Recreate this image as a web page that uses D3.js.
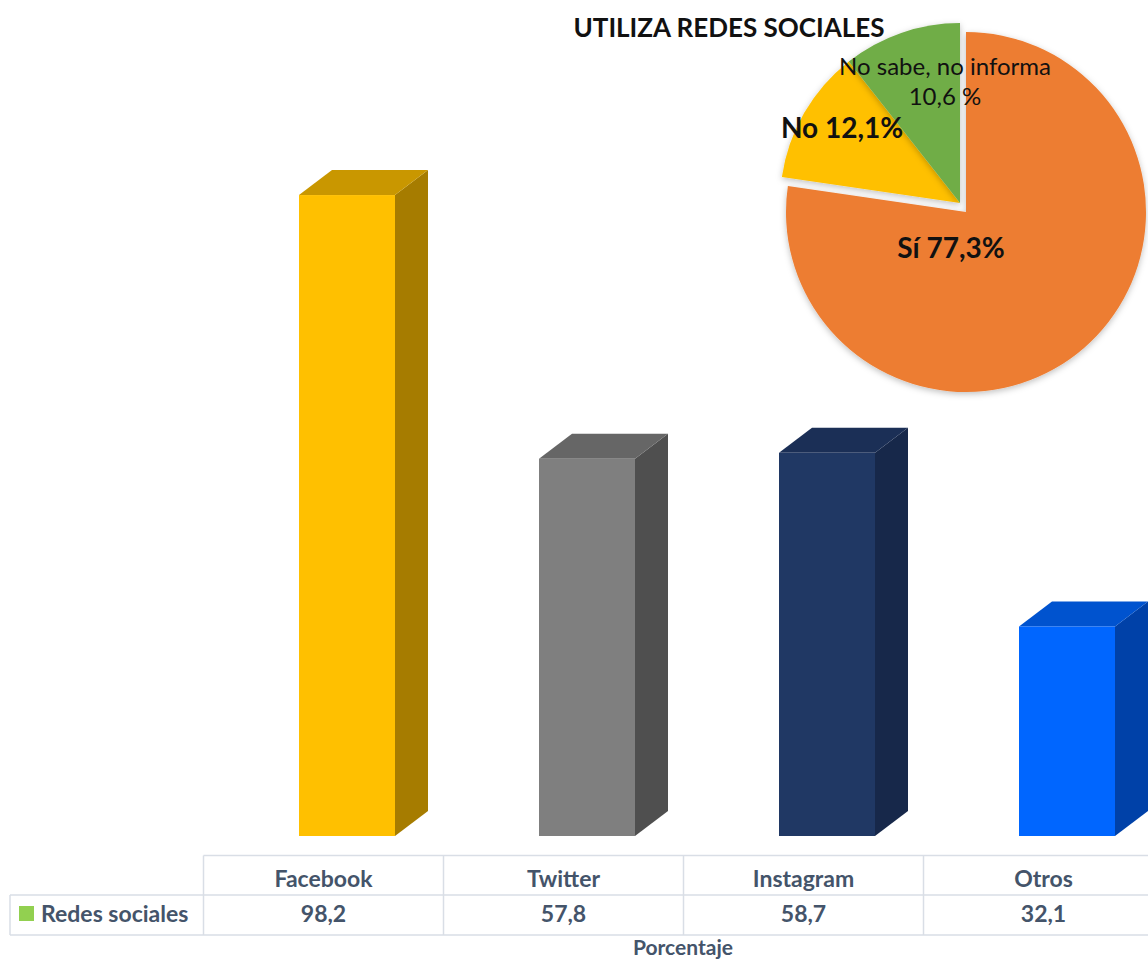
<!DOCTYPE html>
<html lang="es">
<head>
    <meta charset="UTF-8">
    <title>Redes sociales</title>
    <script src="https://cdn.jsdelivr.net/npm/d3@7"></script>
    <style>
        body {
            margin: 0;
            padding: 0;
            background: #fff;
            font-family: Lato, "Open Sans", sans-serif;
        }
        svg { display: block; }
        .cell-line { stroke: #d9dee6; stroke-width: 1.5; fill: none; }
        .tbl-text { fill: #44546a; font-weight: bold; font-size: 23px; text-anchor: middle; }
    </style>
</head>
<body>
    <div id="chart"></div>
    <script>
        // datos
        const categories = ["Facebook", "Twitter", "Instagram", "Otros"];
        const values = [98.2, 57.8, 58.7, 32.1];
        const valueLabels = ["98,2", "57,8", "58,7", "32,1"];
        const seriesName = "Redes sociales";
        const axisTitle = "Porcentaje";

        const pieTitle = "UTILIZA REDES SOCIALES";
        const pieNames = ["Sí", "No", "No sabe, no informa"];
        const pieValues = [77.3, 12.1, 10.6];
        const pieLabels = ["Sí 77,3%", "No 12,1%", "No sabe, no informa|10,6 %"];

        const width = 1148, height = 962;

        // colores de las barras: frente, lado, tapa
        const barColors = [
            { front: "#ffc000", side: "#a67c00", top: "#c99700" },
            { front: "#7f7f7f", side: "#4f4f4f", top: "#666666" },
            { front: "#203864", side: "#17284a", top: "#1b2f56" },
            { front: "#0066ff", side: "#0041a8", top: "#0053cf" }
        ];
        const pieColors = ["#ed7d31", "#ffc000", "#70ad47"];

        const svg = d3.select("#chart")
            .append("svg")
            .attr("width", width)
            .attr("height", height);

        const x = d3.scaleBand()
            .domain(categories)
            .range([203.5, 1163.5]);

        const y = d3.scaleLinear()
            .domain([0, 100])
            .range([836, 836 - 652.7]);

        const dx = 33, dy = 25;
        const frontOff = 95.5, frontW = 96;

        const bars = svg.selectAll(".bar")
            .data(categories)
            .enter().append("g")
            .attr("class", "bar");

        // cara lateral
        bars.append("path")
            .attr("fill", (d, i) => barColors[i].side)
            .attr("d", (d, i) => {
                const x1 = x(d) + frontOff + frontW;
                const yt = y(values[i]), yb = y(0);
                return `M${x1},${yt}L${x1 + dx},${yt - dy}L${x1 + dx},${yb - dy}L${x1},${yb}Z`;
            });

        // tapa
        bars.append("path")
            .attr("fill", (d, i) => barColors[i].top)
            .attr("d", (d, i) => {
                const x0 = x(d) + frontOff, x1 = x0 + frontW;
                const yt = y(values[i]);
                return `M${x0},${yt}L${x0 + dx},${yt - dy}L${x1 + dx},${yt - dy}L${x1},${yt}Z`;
            });

        // frente
        bars.append("rect")
            .attr("fill", (d, i) => barColors[i].front)
            .attr("x", d => x(d) + frontOff)
            .attr("width", frontW)
            .attr("y", (d, i) => y(values[i]))
            .attr("height", (d, i) => y(0) - y(values[i]));

        // tabla de datos
        const tTop = 855.5, tMid = 895, tBot = 935;
        const tbl = svg.append("g");
        tbl.append("line").attr("class", "cell-line")
            .attr("x1", x.range()[0]).attr("x2", width).attr("y1", tTop).attr("y2", tTop);
        tbl.append("line").attr("class", "cell-line")
            .attr("x1", 10).attr("x2", width).attr("y1", tMid).attr("y2", tMid);
        tbl.append("line").attr("class", "cell-line")
            .attr("x1", 10).attr("x2", width).attr("y1", tBot).attr("y2", tBot);
        tbl.append("line").attr("class", "cell-line")
            .attr("x1", 10).attr("x2", 10).attr("y1", tMid).attr("y2", tBot);
        tbl.selectAll(".vline")
            .data(categories)
            .enter().append("line")
            .attr("class", "cell-line vline")
            .attr("x1", d => x(d)).attr("x2", d => x(d))
            .attr("y1", tTop)
            .attr("y2", tBot);

        tbl.selectAll(".cat")
            .data(categories)
            .enter().append("text")
            .attr("class", "tbl-text")
            .attr("x", d => x(d) + x.bandwidth() / 2)
            .attr("y", 887)
            .text(d => d);

        tbl.selectAll(".val")
            .data(valueLabels)
            .enter().append("text")
            .attr("class", "tbl-text")
            .attr("x", (d, i) => x(categories[i]) + x.bandwidth() / 2)
            .attr("y", 922)
            .text(d => d);

        tbl.append("rect")
            .attr("x", 19).attr("y", 906)
            .attr("width", 15).attr("height", 15)
            .attr("fill", "#92d050");
        tbl.append("text")
            .attr("class", "tbl-text")
            .style("text-anchor", "start")
            .attr("x", 41).attr("y", 922)
            .text(seriesName);

        svg.append("text")
            .attr("class", "tbl-text")
            .style("font-size", "21px")
            .attr("x", 683).attr("y", 955)
            .text(axisTitle);

        // gráfico circular
        const defs = svg.append("defs");
        const shadow = defs.append("filter").attr("id", "sombra")
            .attr("x", "-10%").attr("y", "-10%").attr("width", "120%").attr("height", "120%");
        shadow.append("feDropShadow")
            .attr("dx", 0).attr("dy", 2).attr("stdDeviation", 3)
            .attr("flood-color", "#000").attr("flood-opacity", 0.25);

        const cx = 966, cy = 212, r = 180;
        const pie = d3.pie().sort(null).value(d => d);
        const arc = d3.arc().innerRadius(0).outerRadius(r);
        const arcs = pie(pieValues);
        const explode = [[0, 0], [-6, -9], [-6, -9]];

        const pg = svg.append("g").attr("transform", `translate(${cx},${cy})`);
        pg.selectAll(".slice")
            .data(arcs)
            .enter().append("path")
            .attr("class", "slice")
            .attr("transform", (d, i) => `translate(${explode[i][0]},${explode[i][1]})`)
            .attr("fill", (d, i) => pieColors[i])
            .attr("filter", "url(#sombra)")
            .attr("d", arc);

        svg.append("text")
            .attr("x", 729).attr("y", 37)
            .attr("text-anchor", "middle")
            .style("font-weight", "bold")
            .style("font-size", "26px")
            .attr("fill", "#111")
            .text(pieTitle);

        const labelPos = [[951, 258], [842, 138], [945, 75]];
        const labelStyle = [
            { size: "28px", weight: "bold" },
            { size: "28px", weight: "bold" },
            { size: "24px", weight: "normal" }
        ];
        pieLabels.forEach((lab, i) => {
            const t = svg.append("text")
                .attr("x", labelPos[i][0]).attr("y", labelPos[i][1])
                .attr("text-anchor", "middle")
                .style("font-size", labelStyle[i].size)
                .style("font-weight", labelStyle[i].weight)
                .attr("fill", "#111");
            lab.split("|").forEach((part, j) => {
                t.append("tspan")
                    .attr("x", labelPos[i][0])
                    .attr("dy", j === 0 ? 0 : 30)
                    .text(part);
            });
        });
    </script>
</body>
</html>
